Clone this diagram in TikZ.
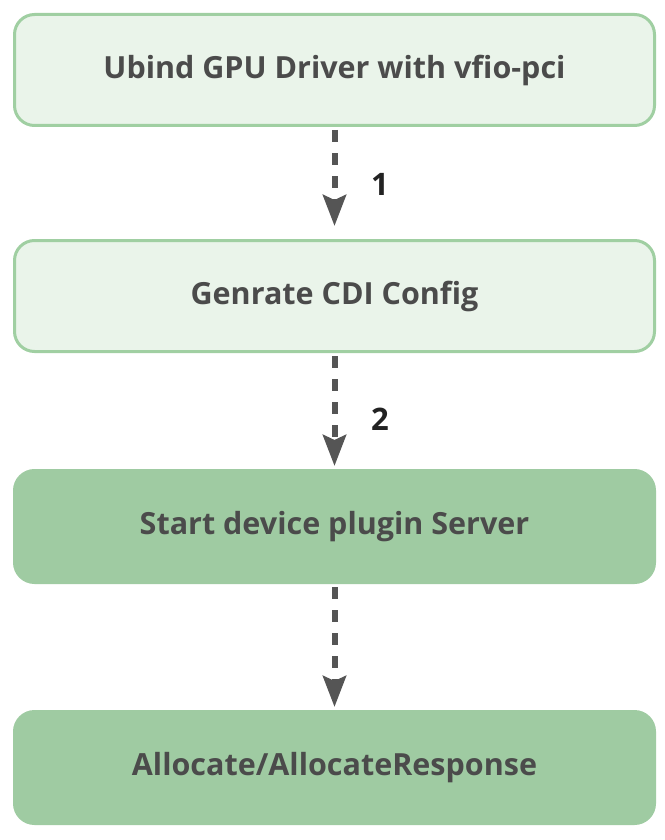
\documentclass[tikz,border=0pt]{standalone}
\usepackage{fontspec}
\setmainfont{Open Sans}[Ligatures=NoCommon]
\usetikzlibrary{arrows.meta}

\definecolor{lightfill}{HTML}{EAF4EA}
\definecolor{boxline}{HTML}{A0CFA2}
\definecolor{darkfill}{HTML}{9FCBA2}
\definecolor{boxtext}{HTML}{4B4B4B}
\definecolor{arrowgray}{HTML}{555555}
\definecolor{numtext}{HTML}{222222}

\begin{document}
\begin{tikzpicture}[x=1pt,y=1pt,
    stepbox/.style={rectangle,rounded corners=20pt,line width=3pt,
      minimum width=640pt,minimum height=111pt,text=boxtext,
      font=\fontsize{30.5}{32}\selectfont\bfseries},
    lightbox/.style={stepbox,draw=boxline,fill=lightfill},
    darkbox/.style={stepbox,draw=darkfill,fill=darkfill,minimum height=112pt},
    flow/.style={draw=arrowgray,line width=6pt,dash pattern=on 12pt off 11pt,
      -{Stealth[length=31pt,width=23pt,inset=5pt]},shorten <=3pt},
    numlabel/.style={text=numtext,font=\fontsize{31}{32}\selectfont\bfseries}]
        \useasboundingbox (0,0) rectangle (664,-840);
        % the four steps
        \node[lightbox] (unbind) at (334.5,-70) {Ubind GPU Driver with vfio-pci};
        \node[lightbox] (cdi) at (334.5,-296) {Genrate CDI Config};
        \node[darkbox] (plugin) at (334.5,-526.5) {Start device plugin Server};
        \node[darkbox] (alloc) at (334.5,-767.5) {Allocate/AllocateResponse};
        % dashed arrows between steps
        \draw[flow,shorten >=13pt] (unbind.south) -- (cdi.north);
        \draw[flow,shorten >=3pt] (cdi.south) -- (plugin.north);
        \draw[flow,shorten >=3pt] (plugin.south) -- (alloc.north);
        % step numbers
        \node[numlabel] (num1) at (380,-184) {1};
        \node[numlabel] (num2) at (380,-419) {2};
      \end{tikzpicture}
\end{document}
